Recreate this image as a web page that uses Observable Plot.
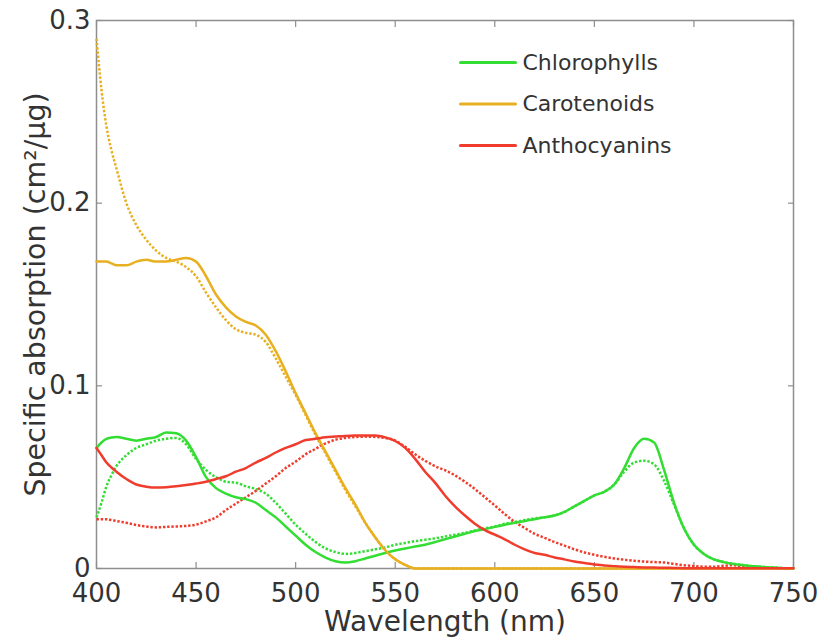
<!DOCTYPE html>
<html><head><meta charset="utf-8">
<script src="https://cdn.jsdelivr.net/npm/d3@7"></script>
<script src="https://cdn.jsdelivr.net/npm/@observablehq/plot@0.6"></script>
<style>
html,body{margin:0;padding:0;background:#fff;}
#chart{width:820px;height:639px;}
</style>
</head><body><div id="chart"></div>
<script>
const wavelengths = [400,402.5,405,407.5,410,415,420,425,430,435,440,445,450,455,460,465,470,475,480,485,490,495,
  500,505,510,515,520,525,530,535,540,545,550,555,560,565,570,575,580,585,590,595,
  600,605,610,615,620,625,630,635,640,645,650,655,660,665,670,675,680,685,690,695,
  700,705,710,715,720,725,730,735,740,745,750];

const chlorophyllsSolid = [0.066,0.069,0.071,0.0717,0.072,0.071,0.070,0.071,0.072,0.0745,0.074,0.070,0.061,0.050,0.044,0.041,0.039,0.038,0.036,0.032,0.028,0.023,
  0.018,0.013,0.009,0.006,0.004,0.0033,0.004,0.0055,0.007,0.0085,0.0099,0.011,0.012,0.013,0.0145,0.016,0.0175,0.019,0.0205,0.0215,
  0.0228,0.024,0.025,0.026,0.027,0.028,0.029,0.031,0.034,0.037,0.040,0.042,0.046,0.055,0.066,0.071,0.069,0.054,0.036,0.022,
  0.013,0.008,0.005,0.0035,0.0025,0.0018,0.0012,0.0008,0.0005,0.0002,0.0001];
const chlorophyllsDotted = [0.028,0.036,0.045,0.051,0.056,0.062,0.066,0.068,0.070,0.071,0.0715,0.068,0.060,0.054,0.050,0.0475,0.047,0.045,0.0435,0.041,0.036,0.030,
  0.024,0.019,0.0145,0.011,0.009,0.008,0.0085,0.0095,0.0105,0.0115,0.013,0.014,0.015,0.0157,0.0165,0.0175,0.0185,0.0195,0.0208,0.022,
  0.023,0.0245,0.0255,0.0265,0.0275,0.028,0.029,0.031,0.034,0.037,0.040,0.042,0.046,0.053,0.058,0.059,0.057,0.048,0.035,0.022,
  0.013,0.008,0.005,0.0035,0.0025,0.0018,0.0012,0.0008,0.0005,0.0002,0.0001];
const carotenoidsSolid = [0.168,0.168,0.168,0.167,0.166,0.166,0.168,0.169,0.168,0.168,0.169,0.170,0.168,0.160,0.150,0.143,0.138,0.135,0.133,0.128,0.119,0.108,
  0.096,0.085,0.074,0.064,0.054,0.044,0.035,0.025,0.017,0.010,0.005,0.002,0,0,0,0,0,0,0,0,
  0,0,0,0,0,0,0,0,0,0,0,0,0,0,0,0,0,0,0,0,
  0,0,0,0,0,0,0,0,0,0,0];
const carotenoidsDotted = [0.290,0.262,0.242,0.229,0.219,0.200,0.188,0.180,0.174,0.170,0.168,0.165,0.160,0.151,0.143,0.136,0.131,0.129,0.128,0.124,0.115,0.105,
  0.095,0.084,0.073,0.063,0.053,0.043,0.034,0.025,0.017,0.010,0.005,0.002,0,0,0,0,0,0,0,0,
  0,0,0,0,0,0,0,0,0,0,0,0,0,0,0,0,0,0,0,0,
  0,0,0,0,0,0,0,0,0,0,0];
const anthocyaninsSolid = [0.066,0.062,0.058,0.0553,0.053,0.049,0.046,0.0448,0.0443,0.0445,0.045,0.0457,0.0465,0.0475,0.049,0.0505,0.053,0.055,0.058,0.0605,0.0635,0.066,
  0.068,0.0703,0.071,0.0718,0.0722,0.0726,0.0728,0.0728,0.0728,0.0718,0.0698,0.066,0.060,0.053,0.047,0.040,0.034,0.029,0.0245,0.021,
  0.0185,0.016,0.013,0.0105,0.0085,0.0075,0.006,0.005,0.0038,0.003,0.0022,0.0017,0.0013,0.001,0.0008,0.0006,0.0005,0.0004,0.0003,0.0002,
  0.0001,0.0001,0.0001,0.0001,0.0001,0.0001,0.0001,0.0001,0.0001,0.0001,0.0001];
const anthocyaninsDotted = [0.027,0.027,0.027,0.0265,0.026,0.025,0.0238,0.023,0.0225,0.0228,0.023,0.0233,0.024,0.0258,0.028,0.032,0.0355,0.039,0.0425,0.0465,0.0505,0.055,
  0.0585,0.0625,0.0655,0.0685,0.0705,0.0715,0.072,0.0722,0.072,0.0715,0.070,0.0667,0.0625,0.059,0.056,0.0538,0.051,0.0475,0.0435,0.039,
  0.0345,0.0298,0.0255,0.0222,0.019,0.0168,0.0145,0.0125,0.0105,0.0088,0.0075,0.0064,0.0055,0.0048,0.0042,0.0038,0.0035,0.0033,0.0025,0.0018,
  0.0013,0.001,0.001,0.0015,0.0018,0.001,0.0005,0.0003,0.0002,0.0001,0];

const seriesNames = ["Chlorophylls", "Carotenoids", "Anthocyanins"];
const seriesColors = ["#33dd33", "#e8b020", "#f03c2d"];
const xTicks = [400,450,500,550,600,650,700,750];
const yTicks = [0, 0.1, 0.2, 0.3];
const yTickLabels = ["0", "0.1", "0.2", "0.3"];
const xLabel = "Wavelength (nm)";
const yLabel = "Specific absorption (cm²/μg)";

const solidData = [chlorophyllsSolid, carotenoidsSolid, anthocyaninsSolid];
const dottedData = [chlorophyllsDotted, carotenoidsDotted, anthocyaninsDotted];

const solidRows = [], dottedRows = [];
seriesNames.forEach((name, s) => {
  wavelengths.forEach((w, i) => {
    solidRows.push({series: name, w, v: solidData[s][i]});
    dottedRows.push({series: name, w, v: dottedData[s][i]});
  });
});

const axisGray = "#8e8e8e";
const textColor = "#333";

const legendMarks = [];
seriesNames.forEach((name, i) => {
  legendMarks.push(Plot.vector([name], {
    frameAnchor: "top-left", dx: 364, dy: 42 + i * 41.5,
    length: 55, rotate: 90, anchor: "start",
    shape: {draw(ctx, l) { ctx.moveTo(0, 0); ctx.lineTo(0, -l); }},
    stroke: seriesColors[i], strokeWidth: 3
  }));
  legendMarks.push(Plot.text([name], {
    frameAnchor: "top-left", dx: 426, dy: 42 + i * 41.5,
    text: d => d, textAnchor: "start", lineAnchor: "middle",
    fontSize: 22, fill: textColor
  }));
});

const chart = Plot.plot({
  width: 820,
  height: 639,
  marginLeft: 96,
  marginRight: 27,
  marginTop: 20,
  marginBottom: 71,
  style: {fontFamily: "DejaVu Sans", fontSize: "26px", background: "#fff", color: textColor},
  x: {domain: [400, 750]},
  y: {domain: [0, 0.3]},
  color: {domain: seriesNames, range: seriesColors},
  marks: [
    Plot.frame({stroke: axisGray, strokeWidth: 1.5}),
    Plot.axisX(xTicks, {anchor: "bottom", tickSize: -6, tickFormat: () => "", stroke: axisGray, strokeWidth: 1.2, label: null}),
    Plot.axisX(xTicks, {anchor: "top", tickSize: -6, tickFormat: () => "", stroke: axisGray, strokeWidth: 1.2, label: null}),
    Plot.axisY(yTicks, {anchor: "left", tickSize: -6, tickFormat: () => "", stroke: axisGray, strokeWidth: 1.2, label: null}),
    Plot.axisY(yTicks, {anchor: "right", tickSize: -6, tickFormat: () => "", stroke: axisGray, strokeWidth: 1.2, label: null}),
    Plot.axisX(xTicks, {anchor: "bottom", tickSize: 0, tickPadding: 15, fontSize: 26, fill: textColor, label: null}),
    Plot.axisY(yTicks, {anchor: "left", tickSize: 0, tickPadding: 6, fontSize: 26, fill: textColor, label: null,
      tickFormat: (d) => yTickLabels[yTicks.indexOf(d)]}),
    Plot.text([xLabel], {frameAnchor: "bottom", dy: 54, text: d => d, textAnchor: "middle", lineAnchor: "middle", fontSize: 28, fill: textColor}),
    Plot.text([yLabel], {frameAnchor: "left", dx: -61, rotate: -90, text: d => d, textAnchor: "middle", lineAnchor: "middle", fontSize: 28.5, fill: textColor}),
    Plot.line(dottedRows, {x: "w", y: "v", z: "series", stroke: "series", strokeWidth: 2.5, strokeDasharray: "2.4,1.8", strokeLinecap: "butt", curve: "monotone-x"}),
    Plot.line(solidRows, {x: "w", y: "v", z: "series", stroke: "series", strokeWidth: 2.5, curve: "monotone-x"}),
    ...legendMarks
  ]
});
document.getElementById("chart").appendChild(chart);
</script>
</body></html>
